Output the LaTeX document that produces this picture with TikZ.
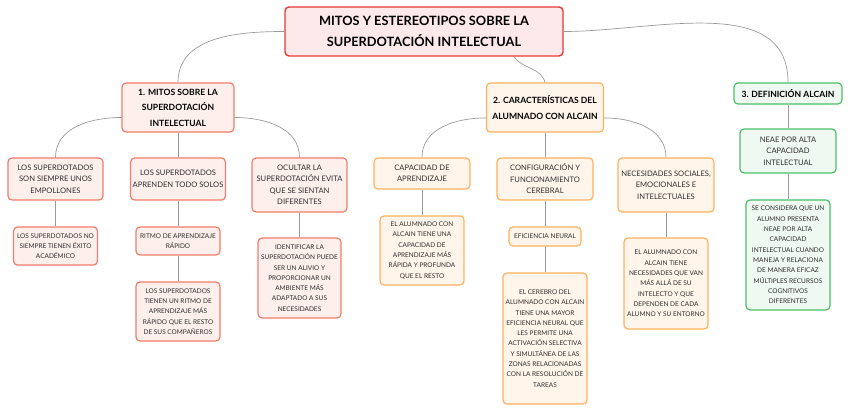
\documentclass[tikz,border=0pt]{standalone}
\usepackage{fontspec}
\setmainfont{Lato}
\usepackage{xcolor}
\usetikzlibrary{positioning}
\definecolor{RootLine}{HTML}{E53935}
\definecolor{RootFill}{HTML}{FDE9E9}
\definecolor{MitLine}{HTML}{F47C6C}
\definecolor{MitFill}{HTML}{FDEFEB}
\definecolor{CarLine}{HTML}{FFB15E}
\definecolor{CarFill}{HTML}{FFF5EB}
\definecolor{DefLine}{HTML}{4CBF68}
\definecolor{DefFill}{HTML}{EFF8F1}
\definecolor{LinkGray}{HTML}{9A9A9A}
\definecolor{TextGray}{HTML}{2E2E2E}

\begin{document}
\begin{tikzpicture}[x=1pt, y=1pt,
  box/.style={draw, rounded corners=4pt, align=center, inner sep=1pt, line width=1.2pt, text=TextGray},
  root/.style={box, draw=RootLine, fill=RootFill, line width=1.4pt, text=black, font=\bfseries\fontsize{12.8}{21}\selectfont},
  mitos/.style={box, draw=MitLine, fill=MitFill},
  carac/.style={box, draw=CarLine, fill=CarFill},
  defin/.style={box, draw=DefLine, fill=DefFill},
  head/.style={text=black, font=\bfseries\fontsize{8.6}{15.5}\selectfont},
  sub/.style={font=\fontsize{7.6}{11.5}\selectfont},
  leaf/.style={font=\fontsize{6.5}{10.3}\selectfont},
  link/.style={draw=LinkGray, line width=0.7pt}]
        \useasboundingbox (0,0) rectangle (848,-412);

        % Nodes
        \node[root, minimum width=278, minimum height=49] (root) at (424,-31.5) {MITOS Y ESTEREOTIPOS SOBRE LA\\SUPERDOTACIÓN INTELECTUAL};

        \node[mitos, head, minimum width=112, minimum height=49] (m1) at (178,-107.5) {1. MITOS SOBRE LA\\SUPERDOTACIÓN\\INTELECTUAL};
        \node[carac, head, minimum width=117, minimum height=49] (m2) at (545,-107.5) {2. CARACTERÍSTICAS DEL\\ALUMNADO CON ALCAIN};
        \node[defin, head, minimum width=108, minimum height=21] (m3) at (788,-93.5) {3. DEFINICIÓN ALCAIN};

        \node[mitos, sub, minimum width=95, minimum height=42] (a1) at (55.5,-179) {LOS SUPERDOTADOS\\SON SIEMPRE UNOS\\EMPOLLONES};
        \node[mitos, sub, minimum width=95, minimum height=42] (a2) at (178,-179) {LOS SUPERDOTADOS\\APRENDEN TODO SOLOS};
        \node[mitos, sub, minimum width=95, minimum height=54] (a3) at (299.5,-185) {OCULTAR LA\\SUPERDOTACIÓN EVITA\\QUE SE SIENTAN\\DIFERENTES};
        \node[mitos, leaf, minimum width=84, minimum height=38] (a1x) at (55.5,-246) {LOS SUPERDOTADOS NO\\SIEMPRE TIENEN ÉXITO\\ACADÉMICO};
        \node[mitos, leaf, minimum width=84, minimum height=28] (a2x) at (178,-241) {RITMO DE APRENDIZAJE\\RÁPIDO};
        \node[mitos, leaf, minimum width=84, minimum height=59] (a2y) at (178,-311.5) {LOS SUPERDOTADOS\\TIENEN UN RITMO DE\\APRENDIZAJE MÁS\\RÁPIDO QUE EL RESTO\\DE SUS COMPAÑEROS};
        \node[mitos, leaf, minimum width=83, minimum height=80] (a3x) at (299.5,-278) {IDENTIFICAR LA\\SUPERDOTACIÓN PUEDE\\SER UN ALIVIO Y\\PROPORCIONAR UN\\AMBIENTE MÁS\\ADAPTADO A SUS\\NECESIDADES};

        \node[carac, sub, minimum width=96, minimum height=31] (b1) at (422,-173.5) {CAPACIDAD DE\\APRENDIZAJE};
        \node[carac, sub, minimum width=96, minimum height=42] (b2) at (545,-179) {CONFIGURACIÓN Y\\FUNCIONAMIENTO\\CEREBRAL};
        \node[carac, sub, minimum width=96, minimum height=54] (b3) at (666,-185) {NECESIDADES SOCIALES,\\EMOCIONALES E\\INTELECTUALES};
        \node[carac, leaf, minimum width=84, minimum height=69] (b1x) at (422,-250.5) {EL ALUMNADO CON\\ALCAIN TIENE UNA\\CAPACIDAD DE\\APRENDIZAJE MÁS\\RÁPIDA Y PROFUNDA\\QUE EL RESTO};
        \node[carac, leaf, minimum width=72, minimum height=19] (b2x) at (545,-236.5) {EFICIENCIA NEURAL};
        \node[carac, leaf, minimum width=84, minimum height=131] (b2y) at (545,-338.5) {EL CEREBRO DEL\\ALUMNADO CON ALCAIN\\TIENE UNA MAYOR\\EFICIENCIA NEURAL QUE\\LES PERMITE UNA\\ACTIVACIÓN SELECTIVA\\Y SIMULTÁNEA DE LAS\\ZONAS RELACIONADAS\\CON LA RESOLUCIÓN DE\\TAREAS};
        \node[carac, leaf, minimum width=84, minimum height=91] (b3x) at (666,-283.5) {EL ALUMNADO CON\\ALCAIN TIENE\\NECESIDADES QUE VAN\\MÁS ALLÁ DE SU\\INTELECTO Y QUE\\DEPENDEN DE CADA\\ALUMNO Y SU ENTORNO};

        \node[defin, sub, minimum width=96, minimum height=44] (c1) at (788,-151) {NEAE POR ALTA\\CAPACIDAD\\INTELECTUAL};
        \node[defin, leaf, minimum width=84, minimum height=110] (c1x) at (788,-255) {SE CONSIDERA QUE UN\\ALUMNO PRESENTA\\NEAE POR ALTA\\CAPACIDAD\\INTELECTUAL CUANDO\\MANEJA Y RELACIONA\\DE MANERA EFICAZ\\MÚLTIPLES RECURSOS\\COGNITIVOS\\DIFERENTES};

        % Edges
        \draw[link] (root.west) to[out=180, in=90] (m1.north);
        \draw[link] ([xshift=90pt]root.south) to[out=-55, in=105] (m2.north);
        \draw[link] (root.east) to[out=0, in=90] (m3.north);

        \draw[link] (m1.190) to[out=180, in=90] (a1.north);
        \draw[link] (m1.south) -- (a2.north);
        \draw[link] (m1.350) to[out=0, in=90] (a3.north);
        \draw[link] (a1.south) -- (a1x.north);
        \draw[link] (a2.south) -- (a2x.north);
        \draw[link] (a2x.south) -- (a2y.north);
        \draw[link] (a3.south) -- (a3x.north);

        \draw[link] (m2.190) to[out=180, in=90] (b1.north);
        \draw[link] (m2.south) -- (b2.north);
        \draw[link] (m2.350) to[out=0, in=90] (b3.north);
        \draw[link] (b1.south) -- (b1x.north);
        \draw[link] (b2.south) -- (b2x.north);
        \draw[link] (b2x.south) -- (b2y.north);
        \draw[link] (b3.south) -- (b3x.north);

        \draw[link] (m3.south) -- (c1.north);
        \draw[link] (c1.south) -- (c1x.north);
    \end{tikzpicture}
\end{document}
